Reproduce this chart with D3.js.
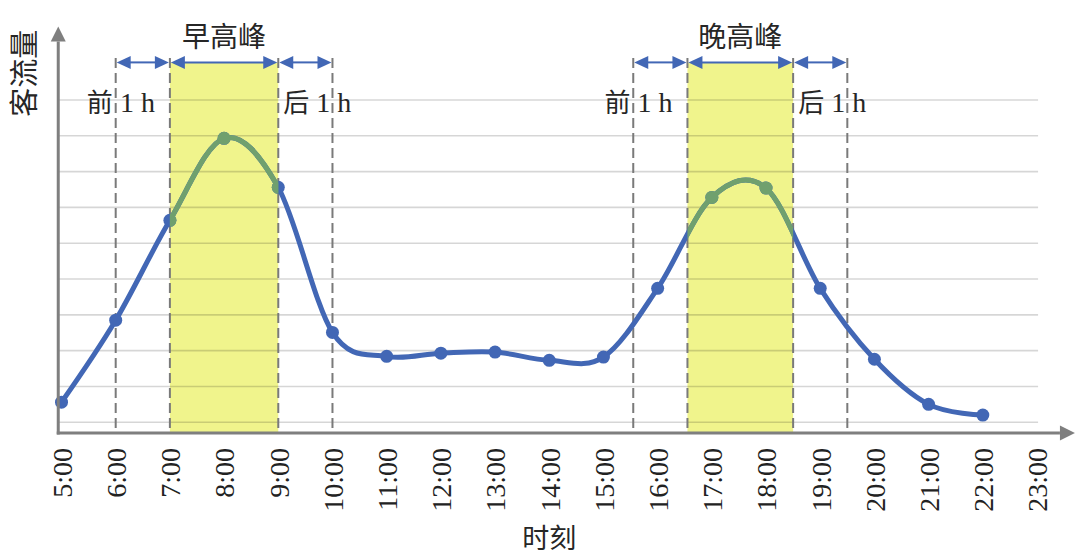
<!DOCTYPE html>
<html>
<head>
<meta charset="utf-8">
<script src="https://cdn.jsdelivr.net/npm/d3@7"></script>
<style>
    body { margin: 0; background: #fff; }
    svg { display: block; }
    .serif { font-family: "Liberation Serif", "Times New Roman", serif; }
    .cjk { font-family: "Noto Sans CJK SC", "Noto Sans", sans-serif; }
</style>
</head>
<body>
<div id="chart"></div>
<script>
// Passenger flow by hour (in grid units)
const hours = [5, 6, 7, 8, 9, 10, 11, 12, 13, 14, 15, 16, 17, 18, 19, 20, 21, 22];
const flow = [1.56, 3.85, 6.64, 8.93, 7.56, 3.51, 2.84, 2.93, 2.96, 2.73, 2.82, 4.74, 7.28, 7.54, 4.74, 2.76, 1.50, 1.20];

const tickHours = [5, 6, 7, 8, 9, 10, 11, 12, 13, 14, 15, 16, 17, 18, 19, 20, 21, 22, 23];
const gridValues = [1, 2, 3, 4, 5, 6, 7, 8, 9, 10];

// Boundaries: before 1h, peak start, peak end, after 1h
const morningBounds = [6, 7, 9, 10];
const eveningBounds = [15.55, 16.55, 18.5, 19.5];
const peakNames = ["早高峰", "晚高峰"];

const width = 1080, height = 556;
const blue = "#4267b5", green = "#70a06e", yellow = "#f0f48c";

const x = d3.scaleLinear().domain([5, 23]).range([61.5, 1037]);
const y = d3.scaleLinear().domain([0.7, 10]).range([433, 100]);

// Axis extents in data units
const xStart = 4.94, xGridEnd = 23.02, xArrowEnd = 23.7;
const yBase = 0.7, yArrowEnd = 12.05;
const dashTop = 11.17, arrowRow = 11.05, peakLabelRow = 11.48, sideLabelRow = 9.66;

const svg = d3.select("#chart").append("svg")
    .attr("width", width)
    .attr("height", height);

svg.append("rect").attr("width", width).attr("height", height).attr("fill", "#fff");

const peaks = [morningBounds, eveningBounds].map((b, i) => ({ name: peakNames[i], bounds: b }));

// Yellow peak bands
svg.selectAll(".peak-band")
    .data(peaks)
    .join("rect")
    .attr("class", "peak-band")
    .attr("x", d => x(d.bounds[1]))
    .attr("width", d => x(d.bounds[2]) - x(d.bounds[1]))
    .attr("y", y(arrowRow))
    .attr("height", y(yBase) - y(arrowRow))
    .attr("fill", yellow);

// Horizontal gridlines
svg.selectAll(".grid")
    .data(gridValues)
    .join("line")
    .attr("class", "grid")
    .attr("x1", x(xStart))
    .attr("x2", x(xGridEnd))
    .attr("y1", d => y(d))
    .attr("y2", d => y(d))
    .attr("stroke", "#000")
    .attr("stroke-opacity", 0.16)
    .attr("stroke-width", 1.6);

// Dashed boundary lines
const allBounds = peaks.flatMap(p => p.bounds);
svg.selectAll(".bound")
    .data(allBounds)
    .join("line")
    .attr("class", "bound")
    .attr("x1", d => x(d))
    .attr("x2", d => x(d))
    .attr("y1", y(dashTop))
    .attr("y2", y(yBase))
    .attr("stroke", "#7a7a7a")
    .attr("stroke-width", 2)
    .attr("stroke-dasharray", "10,5");

// Flow curve
const points = hours.map((h, i) => ({ h: h, v: flow[i] }));
const line = d3.line()
    .x(d => x(d.h))
    .y(d => y(d.v))
    .curve(d3.curveCardinal.tension(0));

// Clip for the green part inside peak bands
const clip = svg.append("clipPath").attr("id", "peak-clip");
clip.selectAll("rect")
    .data(peaks)
    .join("rect")
    .attr("x", d => x(d.bounds[1]))
    .attr("width", d => x(d.bounds[2]) - x(d.bounds[1]))
    .attr("y", 0)
    .attr("height", height);

function drawCurve(g, color) {
    g.append("path")
        .datum(points)
        .attr("d", line)
        .attr("fill", "none")
        .attr("stroke", color)
        .attr("stroke-width", 5)
        .attr("stroke-linecap", "round");
    g.selectAll(".pt")
        .data(points)
        .join("circle")
        .attr("class", "pt")
        .attr("cx", d => x(d.h))
        .attr("cy", d => y(d.v))
        .attr("r", 6.5)
        .attr("fill", color);
}

drawCurve(svg.append("g"), blue);
drawCurve(svg.append("g").attr("clip-path", "url(#peak-clip)"), green);

// Axes
const axisColor = "#7f7f7f";
const xAxisG = svg.append("g")
    .attr("transform", `translate(0,${y(yBase)})`)
    .call(d3.axisBottom(x).tickValues(tickHours).tickSize(0).tickFormat(h => h + ":00"));
xAxisG.select(".domain").remove();
xAxisG.attr("font-family", null).attr("font-size", null);
xAxisG.selectAll(".tick text")
    .attr("class", "serif")
    .attr("transform", "rotate(-90)")
    .attr("x", -15)
    .attr("y", 0)
    .attr("dy", "0.35em")
    .attr("text-anchor", "end")
    .attr("font-size", 28)
    .attr("fill", "#222");

const ah = 15, aw = 7.5;
// x axis line + arrow
svg.append("line")
    .attr("x1", x(xStart) - 1.5).attr("x2", x(xArrowEnd) - ah)
    .attr("y1", y(yBase)).attr("y2", y(yBase))
    .attr("stroke", axisColor).attr("stroke-width", 3);
svg.append("path")
    .attr("d", `M${x(xArrowEnd)},${y(yBase)} L${x(xArrowEnd) - ah},${y(yBase) - aw} L${x(xArrowEnd) - ah},${y(yBase) + aw} Z`)
    .attr("fill", axisColor);
// y axis line + arrow
svg.append("line")
    .attr("x1", x(xStart)).attr("x2", x(xStart))
    .attr("y1", y(yBase) + 1.5).attr("y2", y(yArrowEnd) + ah)
    .attr("stroke", axisColor).attr("stroke-width", 3);
svg.append("path")
    .attr("d", `M${x(xStart)},${y(yArrowEnd)} L${x(xStart) - aw},${y(yArrowEnd) + ah} L${x(xStart) + aw},${y(yArrowEnd) + ah} Z`)
    .attr("fill", axisColor);

// Double-headed arrows between boundaries
const segments = peaks.flatMap(p => [[p.bounds[0], p.bounds[1]], [p.bounds[1], p.bounds[2]], [p.bounds[2], p.bounds[3]]]);
const ay = y(arrowRow), hl = 14, hw = 6.5;
const arrowG = svg.append("g").attr("class", "span-arrows");
segments.forEach(([a, b]) => {
    const x1 = x(a) + 1, x2 = x(b) - 1;
    arrowG.append("line")
        .attr("x1", x1 + hl - 2).attr("x2", x2 - hl + 2)
        .attr("y1", ay).attr("y2", ay)
        .attr("stroke", blue).attr("stroke-width", 2);
    arrowG.append("path")
        .attr("d", `M${x1},${ay} L${x1 + hl},${ay - hw} L${x1 + hl},${ay + hw} Z`)
        .attr("fill", blue);
    arrowG.append("path")
        .attr("d", `M${x2},${ay} L${x2 - hl},${ay - hw} L${x2 - hl},${ay + hw} Z`)
        .attr("fill", blue);
});

// Peak titles
svg.selectAll(".peak-title")
    .data(peaks)
    .join("text")
    .attr("class", "peak-title cjk")
    .attr("x", d => (x(d.bounds[1]) + x(d.bounds[2])) / 2)
    .attr("y", y(peakLabelRow))
    .attr("text-anchor", "middle")
    .attr("font-size", 28)
    .attr("fill", "#262626")
    .text(d => d.name);

// "前1 h" / "后1 h" labels
peaks.forEach(p => {
    const before = svg.append("text")
        .attr("x", x(p.bounds[1]) - 15)
        .attr("y", y(sideLabelRow))
        .attr("text-anchor", "end")
        .attr("font-size", 26)
        .attr("fill", "#262626");
    before.append("tspan").attr("class", "cjk").text("前");
    before.append("tspan").attr("class", "serif").attr("font-size", 28).text(" 1 h");

    const after = svg.append("text")
        .attr("x", x(p.bounds[2]) + 5)
        .attr("y", y(sideLabelRow))
        .attr("text-anchor", "start")
        .attr("font-size", 26)
        .attr("fill", "#262626");
    after.append("tspan").attr("class", "cjk").text("后");
    after.append("tspan").attr("class", "serif").attr("font-size", 28).text(" 1 h");
});

// Axis titles
svg.append("text")
    .attr("class", "cjk")
    .attr("transform", `translate(25,${y(10.75)}) rotate(-90)`)
    .attr("text-anchor", "middle")
    .attr("dy", "0.35em")
    .attr("font-size", 29)
    .attr("fill", "#262626")
    .text("客流量");

svg.append("text")
    .attr("class", "cjk")
    .attr("x", x(14))
    .attr("y", 548)
    .attr("text-anchor", "middle")
    .attr("font-size", 27)
    .attr("fill", "#262626")
    .text("时刻");
</script>
</body>
</html>
